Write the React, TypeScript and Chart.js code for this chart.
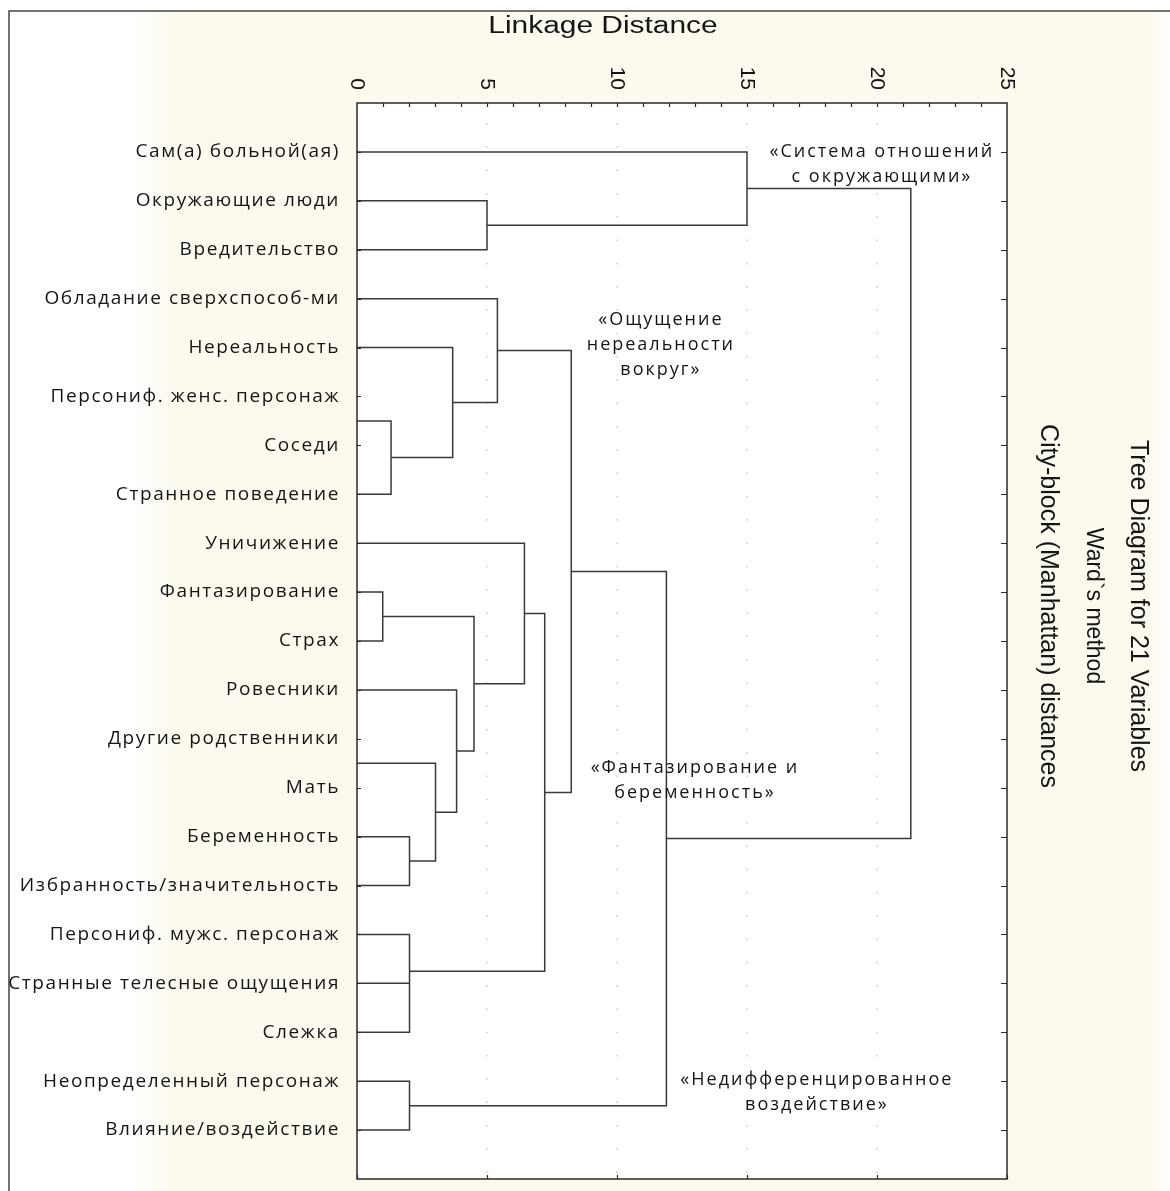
import { useEffect, useRef } from 'react';
import { Chart, registerables } from 'chart.js';

Chart.register(...registerables);

// ---- data ----
const leaves = [
  'Сам(а) больной(ая)',
  'Окружающие люди',
  'Вредительство',
  'Обладание сверхспособ-ми',
  'Нереальность',
  'Персониф. женс. персонаж',
  'Соседи',
  'Странное поведение',
  'Уничижение',
  'Фантазирование',
  'Страх',
  'Ровесники',
  'Другие родственники',
  'Мать',
  'Беременность',
  'Избранность/значительность',
  'Персониф. мужс. персонаж',
  'Странные телесные ощущения',
  'Слежка',
  'Неопределенный персонаж',
  'Влияние/воздействие',
];

// each link joins an upper branch and a lower branch at linkHeight (linkage distance)
const linkHeight = [5.0, 15.0, 1.31, 3.68, 5.4, 0.99, 2.02, 3.02, 3.83, 4.5, 6.44, 2.02, 2.02, 7.22, 8.24, 2.02, 11.9, 21.3];
const upperPos = [2, 1, 6.5, 5, 4, 10, 15, 13.5, 12, 10.5, 9, 17, 18, 10.44, 5.06, 20, 9.58, 1.75];
const upperFrom = [0, 0, 0, 0, 0, 0, 0, 0, 0, 0.99, 0, 0, 0, 6.44, 5.4, 0, 8.24, 15.0];
const lowerPos = [3, 2.5, 8, 7.25, 6.125, 11, 16, 15.5, 14.5, 13.25, 11.875, 19, 18, 17.75, 14.1, 21, 20.5, 15.04];
const lowerFrom = [0, 5.0, 0, 1.31, 3.68, 0, 0, 2.02, 3.02, 3.83, 4.5, 0, 0, 2.02, 7.22, 0, 2.02, 11.9];

const xTickValues = [0, 5, 10, 15, 20, 25];
const xTickLabels = ['0', '5', '10', '15', '20', '25'];

const annotationText = [
  ['«Система отношений', 'с окружающими»'],
  ['«Ощущение', 'нереальности', 'вокруг»'],
  ['«Фантазирование и', 'беременность»'],
  ['«Недифференцированное', 'воздействие»'],
];
const annotationX = [20.15, 11.65, 12.96, 17.65];
const annotationY = [1.0, 4.44, 13.6, 19.98];

const axisTitle = 'Linkage Distance';
const titleLines = ['Tree Diagram for 21 Variables', 'Ward`s method', 'City-block (Manhattan) distances'];

// ---- styles ----
const W = 1170;
const H = 1191;
const LINE = '#3a3a3a';
const TEXT = '#151515';
const CREAM = '#fcfaef';
const ANN_FONT = '18px "Open Sans"';
const ANN_SPACING = '2px';
const ANN_LINE_PX = 25;
const LABEL_SPACING = '1.6px';
const TITLE_X = [1138, 1093, 1048];
const TITLE_SIZE = [25, 23, 25];

const dendroPlugin = {
  id: 'dendro',
  beforeDraw(chart: any) {
    const { ctx, width, height, chartArea: a } = chart;
    ctx.save();
    ctx.fillStyle = '#ffffff';
    ctx.fillRect(0, 0, width, height);
    const g = ctx.createLinearGradient(0, 0, width, 0);
    g.addColorStop(0, '#ffffff');
    g.addColorStop(135 / width, '#ffffff');
    g.addColorStop(172 / width, CREAM);
    g.addColorStop(1150 / width, CREAM);
    g.addColorStop(1166 / width, '#ffffff');
    g.addColorStop(1, '#ffffff');
    ctx.fillStyle = g;
    ctx.fillRect(10, 12, width - 10, height - 12);
    ctx.fillStyle = '#ffffff';
    ctx.fillRect(a.left, a.top, a.right - a.left, a.bottom - a.top);
    ctx.strokeStyle = '#444';
    ctx.lineWidth = 1.5;
    ctx.beginPath();
    ctx.moveTo(9, height);
    ctx.lineTo(9, 11);
    ctx.lineTo(width, 11);
    ctx.stroke();
    ctx.restore();
    ctx.letterSpacing = LABEL_SPACING;
  },
  beforeDatasetsDraw(chart: any) {
    const { ctx, chartArea: a, scales } = chart;
    const xs = scales.x;
    ctx.save();
    ctx.letterSpacing = '0px';
    ctx.strokeStyle = '#d0d0d0';
    ctx.lineWidth = 1.6;
    ctx.setLineDash([1.6, 21.7]);
    for (const v of xTickValues) {
      if (v === 0 || v === 25) continue;
      const px = Math.round(xs.getPixelForValue(v));
      ctx.beginPath();
      ctx.moveTo(px, a.top + 20);
      ctx.lineTo(px, a.bottom);
      ctx.stroke();
    }
    ctx.restore();
  },
  afterDatasetsDraw(chart: any) {
    const { ctx, chartArea: a, scales } = chart;
    const xs = scales.x;
    const ys = scales.y;
    ctx.save();
    ctx.strokeStyle = '#2a2a2a';
    ctx.lineWidth = 1.5;
    ctx.strokeRect(a.left, a.top, a.right - a.left, a.bottom - a.top);
    ctx.beginPath();
    for (let v = 1; v < 25; v++) {
      const px = Math.round(xs.getPixelForValue(v)) + 0.5;
      ctx.moveTo(px, a.top);
      ctx.lineTo(px, a.top + 4);
    }
    for (const v of xTickValues) {
      const px = Math.round(xs.getPixelForValue(v)) + 0.5;
      ctx.moveTo(px, a.bottom);
      ctx.lineTo(px, a.bottom - 4);
    }
    leaves.forEach((_, i) => {
      const py = Math.round(ys.getPixelForValue(i + 1)) + 0.5;
      ctx.moveTo(a.left, py);
      ctx.lineTo(a.left + 4, py);
      ctx.moveTo(a.right, py);
      ctx.lineTo(a.right - 6, py);
    });
    ctx.lineWidth = 1.2;
    ctx.stroke();
    ctx.restore();
  },
  afterDraw(chart: any) {
    const { ctx, scales } = chart;
    const xs = scales.x;
    const ys = scales.y;
    ctx.save();
    ctx.fillStyle = TEXT;
    ctx.letterSpacing = '0px';
    // x tick labels, rotated clockwise
    ctx.font = '21px "Liberation Sans"';
    xTickValues.forEach((v, i) => {
      ctx.save();
      ctx.translate(xs.getPixelForValue(v), 90);
      ctx.rotate(Math.PI / 2);
      ctx.textAlign = 'right';
      ctx.textBaseline = 'middle';
      ctx.fillText(xTickLabels[i], 0, 0);
      ctx.restore();
    });
    // axis title
    ctx.save();
    ctx.font = '23px "Liberation Sans"';
    ctx.translate(603, 27);
    ctx.scale(1.3, 1);
    ctx.textAlign = 'center';
    ctx.textBaseline = 'middle';
    ctx.fillText(axisTitle, 0, 0);
    ctx.restore();
    // chart titles on the right, rotated clockwise
    titleLines.forEach((t, i) => {
      ctx.save();
      ctx.font = `${TITLE_SIZE[i]}px "Liberation Sans"`;
      ctx.translate(TITLE_X[i], 606);
      ctx.rotate(Math.PI / 2);
      ctx.textAlign = 'center';
      ctx.textBaseline = 'middle';
      ctx.fillText(t, 0, 0);
      ctx.restore();
    });
    // cluster annotations
    ctx.font = ANN_FONT;
    ctx.letterSpacing = ANN_SPACING;
    ctx.textAlign = 'center';
    ctx.textBaseline = 'middle';
    annotationText.forEach((lines, i) => {
      const cx = xs.getPixelForValue(annotationX[i]);
      const cy = ys.getPixelForValue(annotationY[i]);
      lines.forEach((ln, j) => {
        ctx.fillText(ln, cx + 1, cy + j * ANN_LINE_PX);
      });
    });
    ctx.restore();
    ctx.letterSpacing = '0px';
  },
};

export default function App() {
  const ref = useRef<HTMLCanvasElement | null>(null);
  useEffect(() => {
    if (!ref.current) return;
    const datasets = linkHeight.map((h, i) => ({
      data: [
        { x: upperFrom[i], y: upperPos[i] },
        { x: h, y: upperPos[i] },
        { x: h, y: lowerPos[i] },
        { x: lowerFrom[i], y: lowerPos[i] },
      ],
      borderColor: LINE,
      borderWidth: 1.5,
      pointRadius: 0,
      tension: 0,
      fill: false,
    }));
    const chart = new Chart(ref.current, {
      type: 'line',
      data: { datasets },
      options: {
        animation: false,
        responsive: false,
        devicePixelRatio: 1,
        events: [],
        layout: { padding: { left: 0, top: 103, right: 163, bottom: 12 } },
        plugins: { legend: { display: false }, tooltip: { enabled: false }, title: { display: false } },
        scales: {
          x: {
            type: 'linear',
            position: 'top',
            min: 0,
            max: 25,
            display: false,
          },
          y: {
            type: 'linear',
            position: 'left',
            min: 0,
            max: 22,
            reverse: true,
            grid: { display: false, drawTicks: false },
            border: { display: false },
            afterBuildTicks: (scale: any) => {
              scale.ticks = leaves.map((_, i) => ({ value: i + 1 }));
            },
            afterFit: (scale: any) => {
              scale.width = 357;
              scale.paddingTop = 0;
              scale.paddingBottom = 0;
            },
            ticks: {
              autoSkip: false,
              padding: 17,
              color: TEXT,
              font: { family: '"Open Sans"', size: 19 },
              callback: (v: any) => leaves[Number(v) - 1] ?? '',
            },
          },
        },
      },
      plugins: [dendroPlugin],
    });
    return () => chart.destroy();
  }, []);
  return (
    <div style={{ position: 'absolute', left: 0, top: 0, width: W, height: H, overflow: 'hidden' }}>
      <canvas ref={ref} width={W} height={H} style={{ width: W, height: H, display: 'block' }} />
    </div>
  );
}
